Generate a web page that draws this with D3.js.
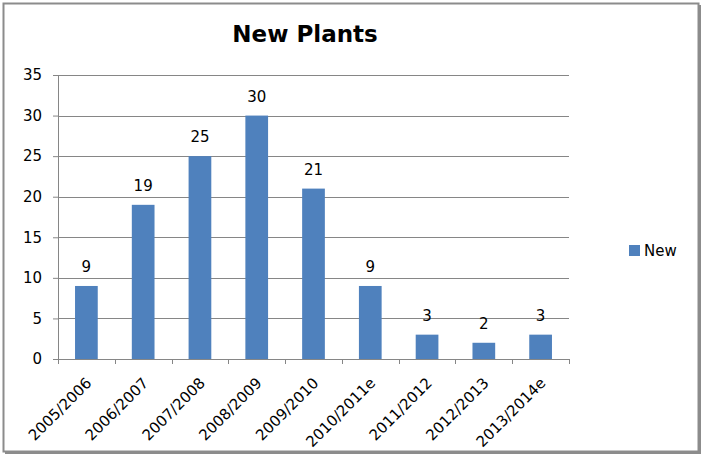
<!DOCTYPE html>
<html>
<head>
<meta charset="utf-8">
<script src="https://cdn.jsdelivr.net/npm/d3@7"></script>
<style>
  body { margin: 0; background: #fff; }
  svg text { font-family: "DejaVu Sans", Verdana, sans-serif; }
</style>
</head>
<body>
<div id="chart"></div>
<script>
// chart values
var seasons = ["2005/2006", "2006/2007", "2007/2008", "2008/2009", "2009/2010",
               "2010/2011e", "2011/2012", "2012/2013", "2013/2014e"];
var newPlants = [9, 19, 25, 30, 21, 9, 3, 2, 3];
var yTicks = [0, 5, 10, 15, 20, 25, 30, 35];
var seriesName = "New";

var W = 704, H = 457;
var margin = {top: 75, right: 135, bottom: 98, left: 58},
    width = W - margin.left - margin.right,
    height = H - margin.top - margin.bottom;

var svg = d3.select("#chart").append("svg")
    .attr("width", W)
    .attr("height", H);

// outer frame, darker on right and bottom like a shadow
svg.append("rect")
    .attr("x", 3.5).attr("y", 3.5)
    .attr("width", 695).attr("height", 448)
    .style("fill", "white")
    .style("stroke", "#8c8c8c")
    .style("stroke-width", 2);
svg.append("line")
    .attr("x1", 699.5).attr("x2", 699.5).attr("y1", 5).attr("y2", 453)
    .style("stroke", "#8c8c8c").style("stroke-width", 3);
svg.append("line")
    .attr("x1", 5).attr("x2", 701).attr("y1", 452.5).attr("y2", 452.5)
    .style("stroke", "#8c8c8c").style("stroke-width", 3);

svg.append("text")
    .attr("x", 305)
    .attr("y", 42)
    .attr("text-anchor", "middle")
    .style("font-size", "23px")
    .style("font-weight", "bold")
    .text("New Plants");

var g = svg.append("g")
    .attr("transform", "translate(" + margin.left + "," + margin.top + ")");

var xScale = d3.scaleBand()
    .domain(seasons)
    .range([0, width])
    .paddingInner(0.6)
    .paddingOuter(0.3);

var xBands = d3.scaleBand()
    .domain(seasons)
    .range([0, width]);

var yScale = d3.scaleLinear()
    .domain([0, 35])
    .range([height, 0]);

// gridlines
g.selectAll(".grid")
    .data(yTicks.slice(1))
    .enter().append("line")
    .attr("class", "grid")
    .attr("x1", 0).attr("x2", width)
    .attr("y1", function(d) { return Math.round(yScale(d)) + 0.5; })
    .attr("y2", function(d) { return Math.round(yScale(d)) + 0.5; })
    .style("stroke", "#868686");

// y axis
var yAxis = g.append("g")
    .attr("class", "y axis")
    .call(d3.axisLeft(yScale).tickValues(yTicks).tickSize(5).tickPadding(11));
yAxis.select(".domain").style("stroke", "#868686");
yAxis.selectAll(".tick line").style("stroke", "#868686");
yAxis.selectAll("text").style("font-size", "15px").style("fill", "#000").style("font-family", "DejaVu Sans");

// bars
g.selectAll(".bar")
    .data(newPlants)
    .enter().append("rect")
    .attr("class", "bar")
    .attr("x", function(d, i) { return xBands(seasons[i]) + (xBands.bandwidth() - xScale.bandwidth()) / 2; })
    .attr("width", xScale.bandwidth())
    .attr("y", function(d) { return yScale(d); })
    .attr("height", function(d) { return height - yScale(d); })
    .style("fill", "#4f81bd");

// value labels
g.selectAll(".label")
    .data(newPlants)
    .enter().append("text")
    .attr("class", "label")
    .attr("x", function(d, i) { return xBands(seasons[i]) + xBands.bandwidth() / 2; })
    .attr("y", function(d) { return yScale(d) - 14; })
    .attr("text-anchor", "middle")
    .style("font-size", "15px")
    .text(function(d) { return d; });

// x axis with ticks between categories
var xAxisG = g.append("g")
    .attr("class", "x axis")
    .attr("transform", "translate(0," + height + ")");
xAxisG.append("line")
    .attr("x1", 0).attr("x2", width).attr("y1", 0.5).attr("y2", 0.5)
    .style("stroke", "#868686");
xAxisG.selectAll(".xtick")
    .data(seasons.concat(["end"]))
    .enter().append("line")
    .attr("class", "xtick")
    .attr("x1", function(d, i) { return Math.round(i * xBands.step()) + 0.5; })
    .attr("x2", function(d, i) { return Math.round(i * xBands.step()) + 0.5; })
    .attr("y1", 0).attr("y2", 5)
    .style("stroke", "#868686");
xAxisG.selectAll(".xlabel")
    .data(seasons)
    .enter().append("text")
    .attr("class", "xlabel")
    .attr("text-anchor", "end")
    .attr("transform", function(d) {
      return "translate(" + (xBands(d) + xBands.bandwidth() / 2 + 6) + ",25) rotate(-45)";
    })
    .style("font-size", "15px")
    .text(function(d) { return d; });

// legend
var legend = svg.append("g").attr("transform", "translate(629,245)");
legend.append("rect")
    .attr("width", 11).attr("height", 11)
    .style("fill", "#4f81bd");
legend.append("text")
    .attr("x", 15).attr("y", 11)
    .style("font-size", "15px")
    .text(seriesName);
</script>
</body>
</html>
